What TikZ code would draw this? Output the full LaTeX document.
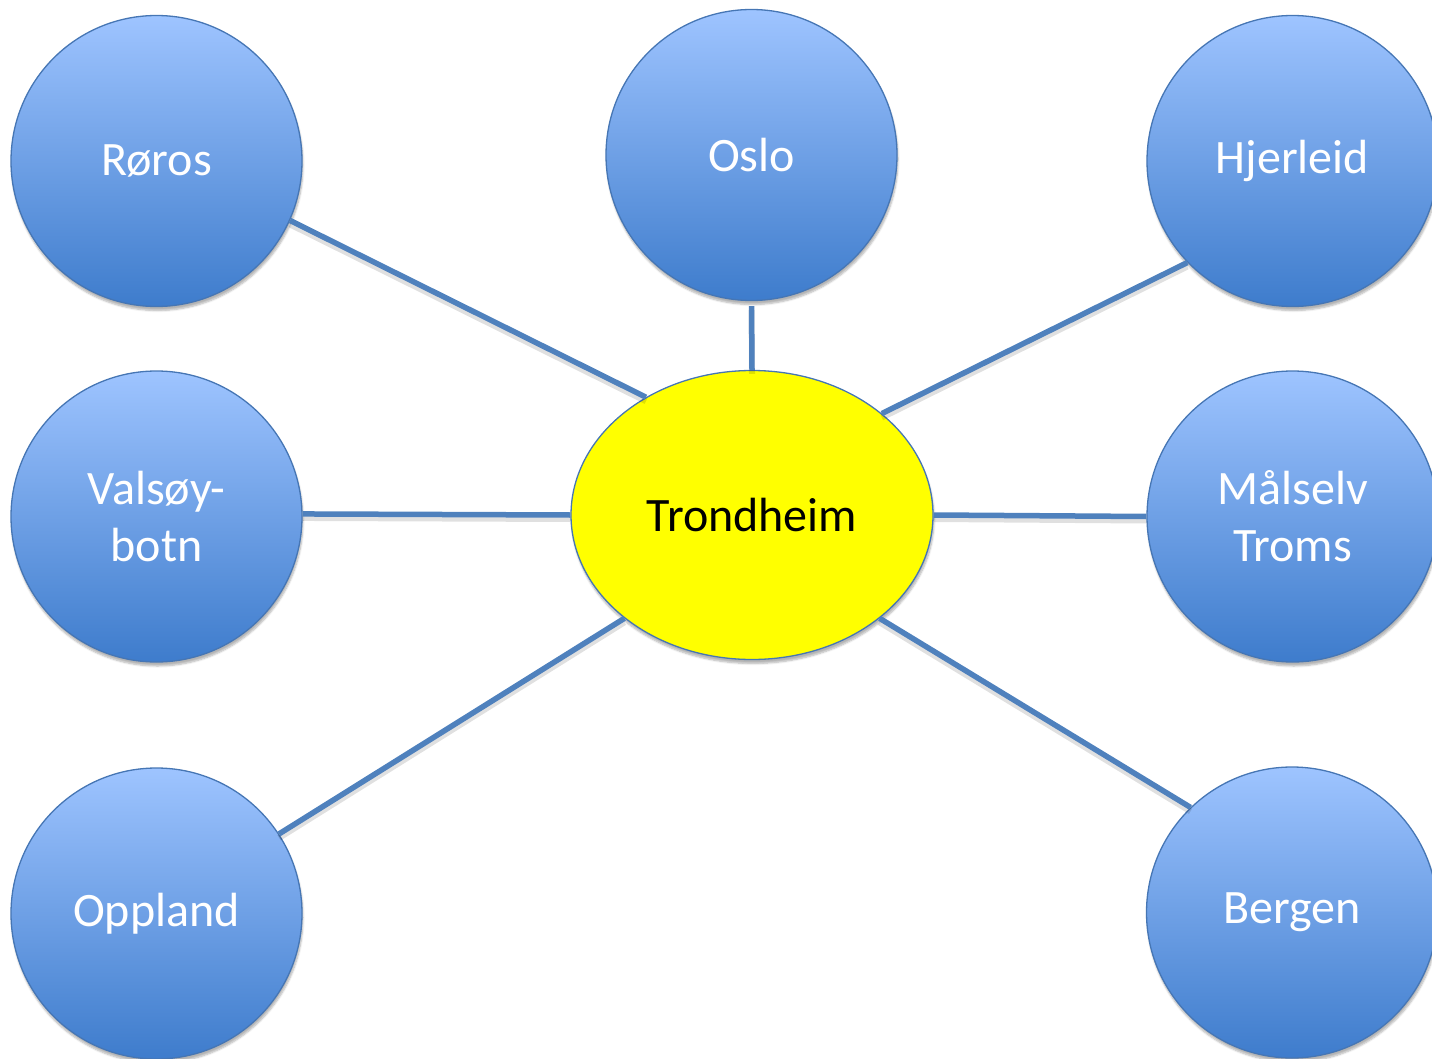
\documentclass[tikz,border=0pt]{standalone}
\usepackage{fontspec}
\setmainfont{Carlito}
\usetikzlibrary{shapes.geometric,shadows.blur}
\definecolor{circtop}{RGB}{158,196,255}
\definecolor{circbot}{RGB}{62,124,204}
\definecolor{circedge}{RGB}{70,118,180}
\definecolor{linkblue}{RGB}{79,129,189}
\definecolor{hubyellow}{RGB}{255,255,0}
\tikzset{
  city/.style={circle, minimum size=291pt, inner sep=0pt, draw=circedge, line width=1.3pt,
    top color=circtop, bottom color=circbot, text=white, align=center,
    font=\fontsize{48}{57}\selectfont,
    blur shadow={shadow xshift=1pt, shadow yshift=-4pt, shadow blur steps=6, shadow opacity=30}},
  hub/.style={ellipse, minimum width=362pt, minimum height=289pt, inner sep=0pt, draw=circedge,
    line width=1.3pt, fill=hubyellow, text=black, align=center,
    font=\fontsize{48}{57}\selectfont,
    blur shadow={shadow xshift=1pt, shadow yshift=-4pt, shadow blur steps=6, shadow opacity=30}},
  link/.style={draw=linkblue, line width=5.5pt,
    preaction={draw=black, draw opacity=0.12, line width=6pt, transform canvas={yshift=-4pt}}}
}
\begin{document}
\begin{tikzpicture}[x=1pt,y=-1pt]
\useasboundingbox (0,0) rectangle (1432,1059);
\node[hub] (trd) at (752,515) {Trondheim};
\node[city] (roros) at (156.5,161) {Røros};
\node[city] (oslo) at (751.5,155) {Oslo};
\node[city] (hjer) at (1292.5,161) {Hjerleid};
\node[city] (vals) at (156.5,516.5) {Valsøy-\\botn};
\node[city] (mals) at (1292.5,516.5) {Målselv\\Troms};
\node[city] (oppl) at (156.5,913.5) {Oppland};
\node[city] (berg) at (1292,912.5) {Bergen};
\draw[link] (roros.-24.6) -- (trd.132.7);
\draw[link, shorten <=5pt] (oslo.south) -- (trd.north);
\draw[link] (hjer.224.7) -- (trd.38.3);
\draw[link] (vals.1.6) -- (trd.west);
\draw[link] (trd.east) -- (mals.west);
\draw[link] (oppl.33.8) -- (trd.219.5);
\draw[link] (berg.134.7) -- (trd.321.4);
\end{tikzpicture}
\end{document}
